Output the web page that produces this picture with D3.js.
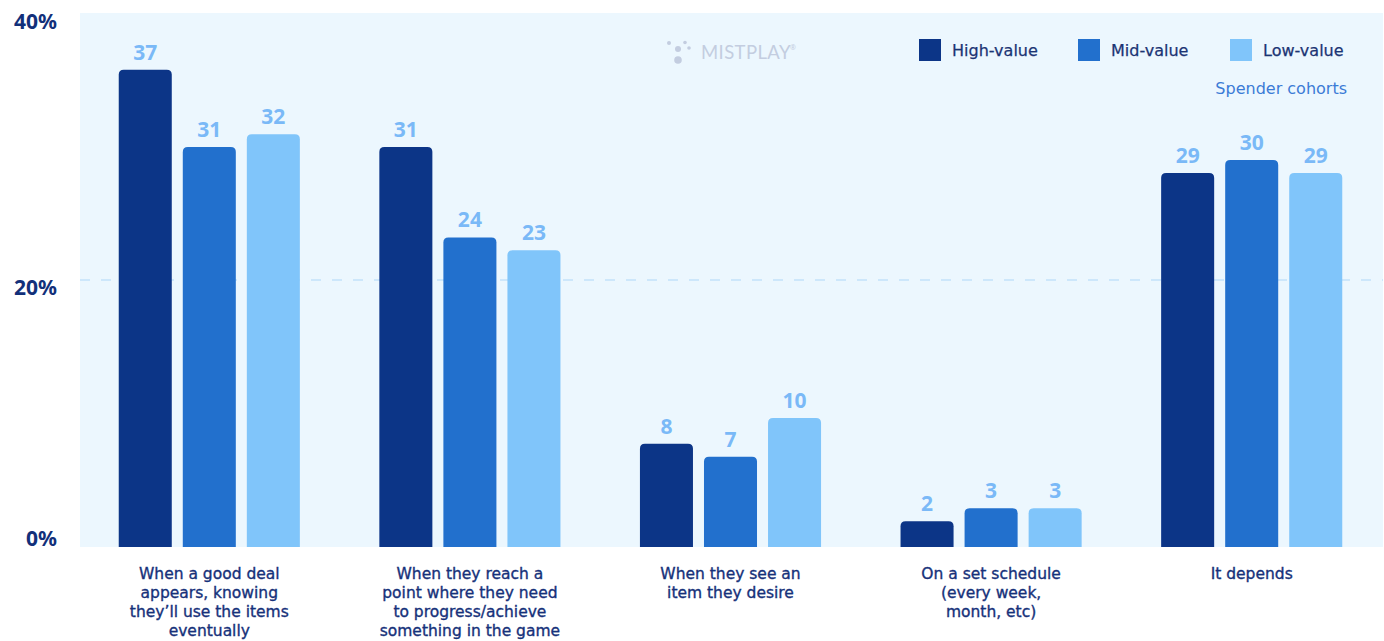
<!DOCTYPE html>
<html>
<head>
<meta charset="utf-8">
<script src="https://cdn.jsdelivr.net/npm/d3@7/dist/d3.min.js"></script>
<style>
  html, body { margin: 0; padding: 0; background: #ffffff; }
  svg { display: block; font-family: "Noto Sans", "Open Sans", sans-serif; }
</style>
</head>
<body>
<svg id="chart" width="1384" height="641"></svg>
<script>
// ---- data ----
const categories = [
  ["When a good deal", "appears, knowing", "they\u2019ll use the items", "eventually"],
  ["When they reach a", "point where they need", "to progress/achieve", "something in the game"],
  ["When they see an", "item they desire"],
  ["On a set schedule", "(every week,", "month, etc)"],
  ["It depends"]
];
const seriesNames = ["High-value", "Mid-value", "Low-value"];
const highValue = [37, 31, 8, 2, 29];
const midValue  = [31, 24, 7, 3, 30];
const lowValue  = [32, 23, 10, 3, 29];
const yTicks = [0, 20, 40];
const legendNote = "Spender cohorts";

const seriesValues = [highValue, midValue, lowValue];
const colors = ["#0c3587", "#2270cd", "#80c5fa"];
const labelFont = "'DejaVu Sans', 'Noto Sans', sans-serif";

// ---- layout ----
const svg = d3.select("#chart");
const plot = { left: 80, right: 1383, top: 13, bottom: 547 };

svg.append("rect")
  .attr("x", plot.left).attr("y", plot.top)
  .attr("width", plot.right - plot.left).attr("height", plot.bottom - plot.top)
  .attr("fill", "#ecf7fe");

const catIdx = categories.map((d, i) => i);
const x0 = d3.scaleBand().domain(catIdx).range([plot.left - 1, plot.right - 1])
  .paddingInner(0.305).paddingOuter(0.1525);
const x1 = d3.scaleBand().domain(seriesNames).range([0, x0.bandwidth()])
  .paddingInner(0.172).paddingOuter(0);
const y = d3.scaleLinear().domain([0, 40]).range([plot.bottom, plot.bottom - 40 * 12.9]);

// gridline at 20%
svg.append("g").selectAll("line").data(yTicks.filter(t => t > 0 && t < 40)).join("line")
  .attr("x1", plot.left).attr("x2", plot.right)
  .attr("y1", d => y(d) - 9).attr("y2", d => y(d) - 9)
  .attr("stroke", "#cde7fb").attr("stroke-width", 2)
  .attr("stroke-dasharray", "10,11");

// y labels
svg.append("g").selectAll("text").data(yTicks).join("text")
  .attr("x", 57)
  .attr("y", d => d === 0 ? y(d) - 1 : (d === 40 ? y(d) - 2 : y(d) + 6))
  .attr("text-anchor", "end")
  .attr("font-size", 21).attr("font-weight", 700)
  .attr("fill", "#12307a")
  .text(d => d + "%");

// bars
function topRounded(x, yTop, w, h, r) {
  r = Math.min(r, h, w / 2);
  return `M${x},${yTop + h}V${yTop + r}Q${x},${yTop} ${x + r},${yTop}H${x + w - r}Q${x + w},${yTop} ${x + w},${yTop + r}V${yTop + h}Z`;
}

const groups = svg.append("g").selectAll("g").data(catIdx).join("g")
  .attr("transform", i => `translate(${x0(i)},0)`);

groups.selectAll("path").data(i => seriesNames.map((s, k) => ({ s, k, v: seriesValues[k][i] }))).join("path")
  .attr("d", d => topRounded(x1(d.s), y(d.v), x1.bandwidth(), plot.bottom - y(d.v), 5))
  .attr("fill", d => colors[d.k]);

groups.selectAll("text.val").data(i => seriesNames.map((s, k) => ({ s, k, v: seriesValues[k][i] }))).join("text")
  .attr("class", "val")
  .attr("x", d => x1(d.s) + x1.bandwidth() / 2)
  .attr("y", d => y(d.v) - 10)
  .attr("text-anchor", "middle")
  .attr("font-size", 21).attr("font-weight", 700)
  .attr("fill", "#7ab9f7")
  .text(d => d.v);

// category labels
svg.append("g").selectAll("text").data(catIdx).join("text")
  .attr("x", i => x0(i) + x0.bandwidth() / 2)
  .attr("y", 579)
  .attr("text-anchor", "middle")
  .attr("font-family", labelFont)
  .attr("font-size", 15.5)
  .attr("fill", "#16317a")
  .attr("stroke", "#16317a").attr("stroke-width", 0.35)
  .each(function (i) {
    const t = d3.select(this);
    categories[i].forEach((line, j) => {
      t.append("tspan").attr("x", x0(i) + x0.bandwidth() / 2)
        .attr("dy", j === 0 ? 0 : 19).text(line);
    });
  });

// legend
const legendX = [919, 1078, 1230];
const lg = svg.append("g").selectAll("g").data(seriesNames).join("g")
  .attr("transform", (d, k) => `translate(${legendX[k]},39)`);
lg.append("rect").attr("width", 22).attr("height", 22).attr("fill", (d, k) => colors[k]);
lg.append("text").attr("x", 33).attr("y", 17)
  .attr("font-family", labelFont)
  .attr("font-size", 16).attr("fill", "#1b3474")
  .attr("stroke", "#1b3474").attr("stroke-width", 0.25)
  .text(d => d);
svg.append("text").attr("x", 1347).attr("y", 94).attr("text-anchor", "end")
  .attr("font-family", labelFont)
  .attr("font-size", 16).attr("fill", "#3b7bd6").text(legendNote);

// watermark logo
const logo = svg.append("g").attr("fill", "#c3cde0");
[[669, 43, 2], [678, 49, 3], [685, 42.5, 1.8], [689, 48, 1.8], [678, 60, 3.8]].forEach(p => {
  logo.append("circle").attr("cx", p[0]).attr("cy", p[1]).attr("r", p[2]);
});
logo.append("text").attr("x", 701).attr("y", 58.5)
  .attr("font-family", "Lato, sans-serif").attr("font-weight", 400)
  .attr("font-size", 18.5).attr("letter-spacing", 0.4).text("MISTPLAY");
logo.append("text").attr("x", 790).attr("y", 50)
  .attr("font-size", 7).text("\u00AE");
</script>
</body>
</html>
